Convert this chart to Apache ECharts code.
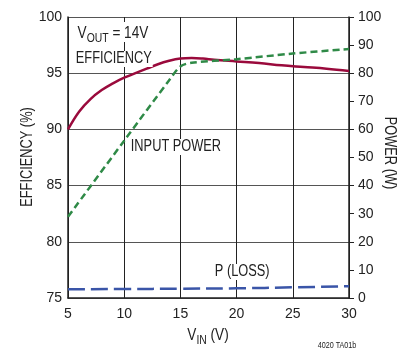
<!DOCTYPE html>
<html>
<head>
<meta charset="utf-8">
<script src="https://cdn.jsdelivr.net/npm/echarts@6/dist/echarts.min.js"></script>
<style>
  html, body { margin: 0; padding: 0; background: #fff; }
  #chart { width: 403px; height: 351px; }
</style>
</head>
<body>
<div id="chart"></div>
<script>
const FONT = '"Liberation Sans", Arial, sans-serif'
const NARROW = 0.8 // the reference uses a condensed face

// efficiency (%) vs VIN, left axis
const vinEff = [5, 6, 7, 8, 9, 10, 11, 12, 13, 14, 15, 16, 17, 18, 20, 22, 24, 26, 28, 30]
const efficiency = [90, 91.6, 92.7, 93.5, 94.1, 94.6, 95.0, 95.4, 95.8, 96.1, 96.3, 96.35, 96.3, 96.2, 96.05, 95.9, 95.7, 95.55, 95.4, 95.2]

// input power (W), right axis
const vinPower = [5, 10, 14, 15, 16, 20, 25, 30]
const inputPower = [28.9, 56, 77.5, 82.4, 83.7, 85.0, 87.0, 88.6]

// power loss (W), right axis
const vinLoss = [5, 10, 15, 20, 25, 30]
const powerLoss = [3.1, 3.2, 3.3, 3.45, 3.8, 4.2]

const xTicks = [5, 10, 15, 20, 25, 30]

const pairs = (xs, ys) => xs.map((x, i) => [x, ys[i]])

const tickLabel = { color: '#222', fontSize: 14, fontFamily: FONT }

const chart = echarts.init(document.getElementById('chart'))
chart.setOption({
  animation: false,
  textStyle: { fontFamily: FONT },
  grid: { left: 68, right: 54, top: 17, bottom: 53 },
  xAxis: {
    type: 'value',
    min: xTicks[0],
    max: xTicks[xTicks.length - 1],
    interval: 5,
    axisLine: { lineStyle: { color: '#222', width: 1.5 } },
    axisTick: { show: false },
    axisLabel: { ...tickLabel, margin: 9 },
    splitLine: { show: true, lineStyle: { color: '#222', width: 1 } },
  },
  yAxis: [
    {
      type: 'value',
      min: 75,
      max: 100,
      interval: 5,
      axisLine: { show: true, lineStyle: { color: '#222', width: 1.5 } },
      axisTick: { show: false },
      axisLabel: { ...tickLabel, margin: 6 },
      splitLine: { show: true, lineStyle: { color: '#555', width: 1 } },
    },
    {
      type: 'value',
      min: 0,
      max: 100,
      interval: 10,
      position: 'right',
      axisLine: { show: true, lineStyle: { color: '#222', width: 1.5 } },
      axisTick: { show: true, inside: false, length: 5, lineStyle: { color: '#222' } },
      axisLabel: { ...tickLabel, margin: 9 },
      splitLine: { show: false },
    },
  ],
  series: [
    {
      name: 'EFFICIENCY',
      type: 'line',
      yAxisIndex: 0,
      smooth: 0.4,
      showSymbol: false,
      lineStyle: { color: '#9a0a3c', width: 2.5 },
      data: pairs(vinEff, efficiency),
      z: 4,
    },
    {
      name: 'INPUT POWER',
      type: 'line',
      yAxisIndex: 1,
      smooth: 0.3,
      showSymbol: false,
      lineStyle: { color: '#2f8a47', width: 2.5, type: [7, 4] },
      data: pairs(vinPower, inputPower),
      z: 5,
    },
    {
      name: 'P (LOSS)',
      type: 'line',
      yAxisIndex: 1,
      smooth: true,
      showSymbol: false,
      lineStyle: { color: '#3a55a8', width: 2.5, type: [17, 6] },
      data: pairs(vinLoss, powerLoss),
      z: 5,
    },
  ],
  graphic: [
    {
      type: 'text', x: 76, y: 22, scaleX: NARROW, z: 10,
      style: {
        text: '{v|V}{s|OUT}{v| = 14V}',
        backgroundColor: '#fff',
        padding: [0, 2],
        rich: {
          v: { fontSize: 17, fontFamily: FONT, fill: '#222', verticalAlign: 'bottom', lineHeight: 20 },
          s: { fontSize: 13, fontFamily: FONT, fill: '#222', verticalAlign: 'bottom', lineHeight: 16, padding: [0, 0, -3, 0] },
        },
      },
    },
    {
      type: 'text', x: 75, y: 51, scaleX: NARROW, z: 10,
      style: { text: 'EFFICIENCY', font: '16px ' + FONT, fill: '#222', backgroundColor: '#fff', padding: [0, 1] },
    },
    {
      type: 'text', x: 130, y: 139, scaleX: NARROW, z: 10,
      style: { text: 'INPUT POWER', font: '16px ' + FONT, fill: '#222', backgroundColor: '#fff', padding: [0, 1] },
    },
    {
      type: 'text', x: 214, y: 264, scaleX: NARROW, z: 10,
      style: { text: 'P (LOSS)', font: '16px ' + FONT, fill: '#222', backgroundColor: '#fff', padding: [0, 1] },
    },
    {
      type: 'text', x: 28, y: 157, rotation: Math.PI / 2, scaleX: NARROW, z: 10,
      style: { text: 'EFFICIENCY (%)', font: '16px ' + FONT, fill: '#222', align: 'center', verticalAlign: 'middle' },
    },
    {
      type: 'text', x: 389, y: 153, rotation: -Math.PI / 2, scaleX: NARROW, z: 10,
      style: { text: 'POWER (W)', font: '16px ' + FONT, fill: '#222', align: 'center', verticalAlign: 'middle' },
    },
    {
      type: 'text', x: 208, y: 334, scaleX: NARROW, z: 10,
      style: {
        text: '{v|V}{s|IN}{v| (V)}',
        align: 'center', verticalAlign: 'middle',
        rich: {
          v: { fontSize: 17, fontFamily: FONT, fill: '#222', verticalAlign: 'bottom', lineHeight: 20 },
          s: { fontSize: 13, fontFamily: FONT, fill: '#222', verticalAlign: 'bottom', lineHeight: 16, padding: [0, 0, -3, 0] },
        },
      },
    },
    {
      type: 'text', x: 337, y: 346, scaleX: NARROW, z: 10,
      style: { text: '4020 TA01b', font: '9px ' + FONT, fill: '#222', align: 'center', verticalAlign: 'middle' },
    },
  ],
})
</script>
</body>
</html>
